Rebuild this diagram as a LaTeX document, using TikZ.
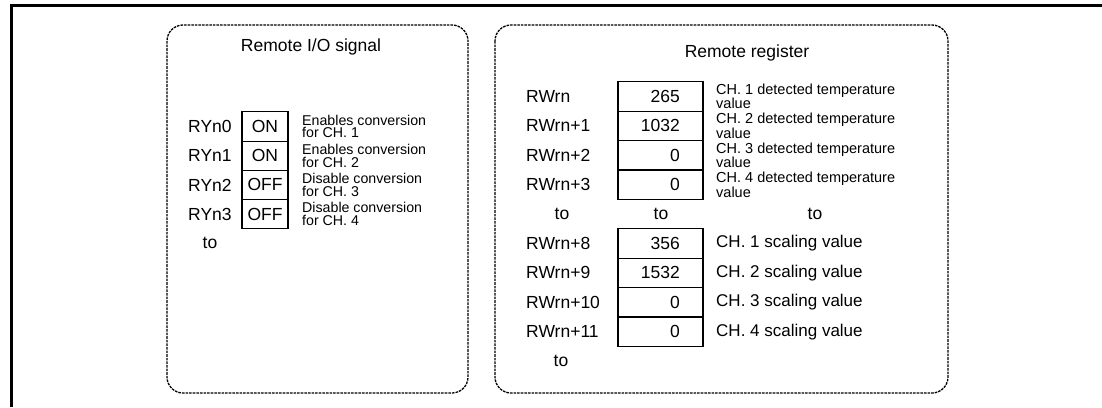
\documentclass[tikz,border=0pt]{standalone}
\usepackage{fontspec}
\setmainfont{Liberation Sans}
\begin{document}
\begin{tikzpicture}[x=1pt,y=-1pt,
  lbl/.style={font=\fontsize{17.5}{20}\selectfont, inner sep=0pt},
  desc/.style={font=\fontsize{14.2}{12.6}\selectfont, inner sep=0pt, align=left, anchor=west},
  sigcell/.style={draw, line width=1.1pt, minimum width=46pt, minimum height=29.2pt, inner sep=0pt},
  regcell/.style={draw, line width=1.1pt, minimum width=85pt, minimum height=29.4pt, inner sep=0pt},
  panel/.style={draw, dash pattern=on 2.6pt off 1pt, line width=1.3pt, rounded corners=16pt},
]
\useasboundingbox (0,0) rectangle (1102,407);
% outer frame
\draw[line width=3pt] (11.5,407) -- (11.5,5) -- (1102,5);
% panels
\draw[panel] (167,25) rectangle (468,393);
\draw[panel] (495,25) rectangle (948,393);
% titles
\node[lbl] (t1) at (311,47) {Remote I/O signal};
\node[lbl] (t2) at (747,53) {Remote register};
% remote I/O signals
\foreach \k/\lab/\st/\d in {0/RYn0/ON/{Enables conversion\\for CH. 1},
                            1/RYn1/ON/{Enables conversion\\for CH. 2},
                            2/RYn2/OFF/{Disable conversion\\for CH. 3},
                            3/RYn3/OFF/{Disable conversion\\for CH. 4}}{
  \pgfmathsetmacro{\yy}{126.5+29.2*\k}
  \node[lbl, anchor=west] (ry\k) at (188,\yy) {\lab};
  \node[sigcell, lbl] (rs\k) at (265,\yy) {\st};
  \node[desc] (rd\k) at (302,\yy) {\d};
}
\node[lbl] (rto) at (210,243) {to};
% remote registers
\foreach \k/\lab/\v/\d in {0/RWrn/265/{CH. 1 detected temperature\\value},
                           1/RWrn+1/1032/{CH. 2 detected temperature\\value},
                           2/RWrn+2/0/{CH. 3 detected temperature\\value},
                           3/RWrn+3/0/{CH. 4 detected temperature\\value},
                           5/RWrn+8/356/{CH. 1 scaling value},
                           6/RWrn+9/1532/{CH. 2 scaling value},
                           7/RWrn+10/0/{CH. 3 scaling value},
                           8/RWrn+11/0/{CH. 4 scaling value}}{
  \pgfmathsetmacro{\yy}{96.5+29.4*\k}
  \node[lbl, anchor=west] (rw\k) at (526,\yy) {\lab};
  \node[regcell] (rc\k) at (660.5,\yy) {};
  \node[lbl, anchor=east] (rv\k) at (680,\yy) {\v};
  \node[desc, font=\fontsize{\ifnum\k>3 17\else 14.5\fi}{12.6}\selectfont] (rx\k) at (716,\yy) {\d};
}
\node[lbl] (to1) at (562,214.1) {to};
\node[lbl] (to2) at (661,214.1) {to};
\node[lbl] (to3) at (815,214.1) {to};
\node[lbl] (to4) at (561,361.1) {to};
\end{tikzpicture}
\end{document}
